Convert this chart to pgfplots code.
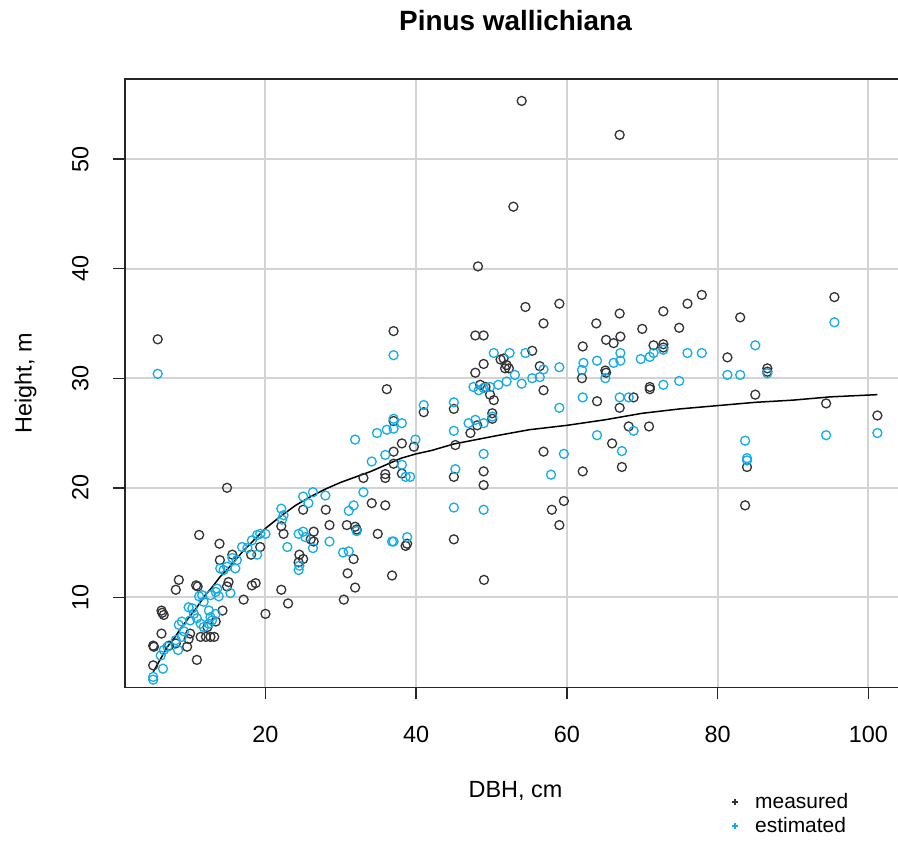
\documentclass[border=0pt]{standalone}
\usepackage{fontspec}
\setmainfont{Liberation Sans}
\usepackage{pgfplots}
\pgfplotsset{compat=1.18}
\definecolor{meas}{RGB}{51,51,51}
\definecolor{est}{RGB}{20,172,232}
\definecolor{gridgray}{RGB}{211,211,211}

% measured heights (DBH in cm, height in m)
\pgfplotstableread{
x y
5.7 33.55
14.9 20.0
11.2 15.7
13.9 14.9
8.5 11.6
8.1 10.7
10.8 11.1
11.0 11.0
6.2 8.8
6.3 8.6
6.5 8.4
6.2 6.7
5.1 5.6
5.2 5.5
5.1 3.8
10.9 4.3
9.6 5.5
9.8 6.2
7.2 5.6
8.1 5.8
10.0 6.7
11.4 6.4
12.1 6.4
12.7 6.4
13.2 6.4
12.3 7.3
13.4 7.8
14.3 8.8
15.1 11.4
14.9 11.0
13.95 13.4
15.6 13.9
18.1 13.9
19.3 14.6
18.2 11.1
18.7 11.3
17.1 9.8
20.0 8.5
22.1 10.7
23.0 9.45
22.1 16.5
22.4 15.8
25.0 18.0
28.0 18.0
26.4 16.0
26.0 15.3
26.4 15.1
24.5 13.9
25.0 13.5
24.4 13.2
28.5 16.6
30.8 16.6
31.9 16.45
32.1 16.2
34.1 18.6
35.9 18.4
34.9 15.8
38.8 14.9
38.6 14.7
36.8 12.0
31.7 13.5
30.9 12.2
31.9 10.9
30.4 9.8
33.0 20.9
35.9 21.25
35.9 20.9
37.0 34.3
36.1 29.0
37.0 26.1
38.1 24.05
37.0 23.3
39.7 23.75
37.0 22.2
38.1 21.3
41.0 26.9
45.0 27.2
54.5 36.5
59.0 36.8
56.9 35.0
47.85 33.9
48.95 33.9
55.4 32.5
51.2 31.7
51.6 31.8
52.0 31.2
51.8 30.9
52.3 30.9
48.95 31.3
47.85 30.5
56.4 31.1
62.1 32.9
63.9 35.0
67.0 35.9
65.2 33.5
66.2 33.2
67.1 33.8
70.0 34.5
65.1 30.7
65.2 30.5
62.0 30.0
48.5 29.4
49.2 29.2
49.8 28.5
50.3 28.0
50.1 26.8
50.1 26.3
56.9 28.9
64.0 27.9
67.0 27.3
68.85 28.25
70.9 25.6
68.2 25.6
66.0 24.05
67.3 21.9
48.1 25.7
47.2 25.0
45.2 23.9
56.9 23.3
62.1 21.5
45.0 21.0
48.95 21.5
48.95 20.25
59.6 18.8
58.0 18.0
59.0 16.6
45.0 15.3
49.0 11.6
54.0 55.3
67.0 52.2
52.9 45.65
48.2 40.2
77.9 37.6
76.0 36.8
72.8 36.1
74.9 34.6
71.5 33.0
72.8 33.1
72.8 32.8
95.5 37.4
83.0 35.55
81.3 31.9
86.6 30.9
86.6 30.6
71.0 29.2
71.0 29.0
85.0 28.5
94.4 27.7
101.2 26.6
83.9 21.9
83.65 18.4
}\measured

% estimated heights
\pgfplotstableread{
x y
5.1 2.5
5.1 2.75
6.4 3.5
6.1 4.7
6.5 5.2
7.0 5.5
8.4 5.2
8.1 6.1
8.9 6.4
9.2 6.9
8.5 7.5
8.9 7.8
10.0 7.9
10.5 8.5
10.3 9.0
9.8 9.1
11.2 10.1
11.6 10.2
11.8 9.6
10.9 8.1
11.4 7.6
11.8 7.3
12.5 8.8
12.7 8.2
12.9 7.9
12.5 7.6
13.4 8.5
12.7 10.2
13.4 10.5
13.6 10.8
13.8 10.1
15.35 10.4
14.0 12.65
14.45 12.5
14.9 12.8
16.0 12.65
16.2 13.4
15.6 13.6
16.9 14.6
17.6 14.5
18.2 15.2
18.9 15.7
19.3 15.8
20.0 15.8
18.9 13.9
22.1 18.1
22.4 17.5
22.2 17.1
25.0 19.2
25.7 18.6
26.3 19.6
27.95 19.3
24.4 15.8
25.0 16.0
25.3 15.5
22.9 14.6
26.3 14.5
28.5 15.1
31.05 17.9
31.7 18.4
33.0 19.6
32.1 16.05
30.3 14.1
31.05 14.2
24.4 12.5
24.5 12.9
36.8 15.1
37.0 15.1
38.8 15.5
5.7 30.4
37.0 32.1
31.9 24.4
34.8 25.0
36.1 25.3
37.0 25.4
38.1 25.9
37.0 26.3
39.9 24.4
34.1 22.4
35.9 23.0
38.1 22.1
38.6 21.0
39.2 21.0
50.3 32.3
52.4 32.3
54.5 32.3
56.9 30.8
59.0 31.0
62.0 30.75
62.2 31.4
64.0 31.6
66.2 31.4
67.1 31.6
67.1 32.3
69.8 31.75
71.0 31.95
65.1 30.0
47.6 29.2
48.3 28.9
48.95 29.1
49.8 29.2
50.9 29.4
52.0 29.7
53.1 30.3
54.0 29.5
55.4 30.0
56.4 30.1
62.1 28.25
59.0 27.3
67.0 28.25
68.2 28.25
41.0 27.55
45.0 27.8
46.95 25.9
47.85 26.2
48.95 25.9
50.1 26.5
45.0 25.2
64.0 24.8
68.85 25.2
67.3 23.35
48.95 23.1
59.6 23.1
45.2 21.7
57.9 21.2
45.0 18.2
48.95 18.0
95.5 35.1
85.0 33.0
71.5 32.3
72.8 32.6
76.0 32.3
77.9 32.3
81.3 30.3
83.0 30.3
86.6 30.45
72.8 29.4
74.9 29.75
94.4 24.8
101.2 25.0
83.65 24.3
83.9 22.7
83.9 22.5
}\estimated

% fitted height curve
\pgfplotstableread{
x y
5.1 3.2
6 4.3
7 5.5
8 6.4
9 7.4
10 8.3
11 9.2
12 10.2
13 11.0
14 11.9
15 12.6
16 13.4
17 14.2
18 14.9
19 15.6
20 16.3
22 17.4
24 18.4
26 19.2
28 19.9
30 20.5
32 21.0
34 21.5
36 22.1
38 22.7
40 23.1
42 23.4
45 24.0
48 24.4
51 24.8
55 25.3
60 25.7
65 26.2
70 26.8
75 27.2
80 27.5
85 27.8
90 28.0
95 28.3
101.2 28.5
}\fitted

\begin{document}
\begin{tikzpicture}
\useasboundingbox (-62.5bp,-76.85bp) rectangle (386.5bp,343.65bp);
\begin{axis}[
  at={(0,0)}, anchor=south west,
  scale only axis, width=390.5bp, height=304.15bp,
  xmin=1.36, xmax=105, ymin=1.8, ymax=57.3,
  xtick={20,40,60,80,100}, ytick={10,20,30,40,50},
  xtick pos=bottom, ytick pos=left,
  tick align=outside, major tick length=6bp,
  tick style={line width=0.7bp, black!85},
  axis line style={line width=0.8bp, black!85},
  grid=major, major grid style={gridgray, line width=1bp},
  /pgf/number format/assume math mode=true,
  tick label style={font=\fontsize{11.75}{14}\selectfont, inner sep=0pt},
  xticklabel style={anchor=north},
  xticklabel shift=13bp,
  yticklabel style={rotate=90, anchor=south},
  yticklabel shift=12bp,
  label style={font=\fontsize{11.75}{14}\selectfont, inner sep=0pt},
  xlabel={DBH, cm},
  xlabel style={at={([yshift=-55bp]axis description cs:0.5,0)}, anchor=base},
  ylabel={Height, m},
  ylabel style={at={([xshift=-46.7bp]axis description cs:0,0.5)}, rotate=0, anchor=base},
  title={Pinus wallichiana},
  title style={at={([yshift=18.5bp]axis description cs:0.5,1)}, anchor=base,
    font=\bfseries\fontsize{14}{17}\selectfont, inner sep=0pt},
  legend image code/.code={\draw[#1] plot coordinates {(0bp,0bp)};
    \path[draw=none, fill=none] (-1.5bp,0bp) -- (8.5bp,0bp);},
  legend style={at={(axis description cs:0.777,-0.168)}, anchor=north west,
    draw=none, fill=none, font=\fontsize{10.5}{13}\selectfont,
    row sep=0bp, inner sep=0pt, nodes={inner sep=1.5bp}},
  legend cell align=left,
]
\addplot[only marks, mark=o, mark size=2.25bp, color=meas, line width=0.65bp, forget plot] table[x=x, y=y] {\measured};
\addplot[only marks, mark=o, mark size=2.25bp, color=est, line width=0.65bp, forget plot] table[x=x, y=y] {\estimated};
\addplot[black, line width=0.75bp, forget plot] table[x=x, y=y] {\fitted};
\addlegendimage{only marks, mark=+, mark size=1.5bp, line width=0.9bp, color=meas}
\addlegendentry{measured}
\addlegendimage{only marks, mark=+, mark size=1.5bp, line width=0.9bp, color=est}
\addlegendentry{estimated}
\end{axis}
\end{tikzpicture}
\end{document}
